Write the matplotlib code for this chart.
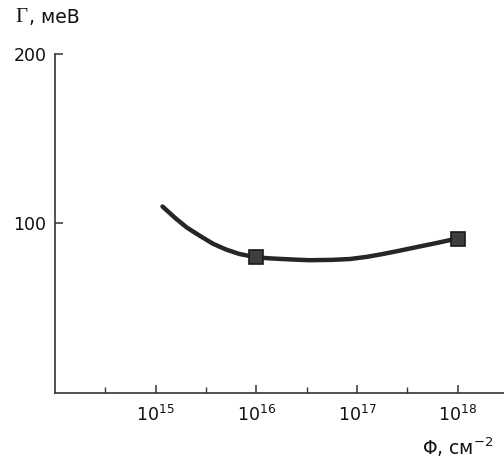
import matplotlib
matplotlib.use("Agg")
import matplotlib.pyplot as plt
from matplotlib.ticker import FixedLocator

plt.rcParams['font.family'] = ['DejaVu Sans']
plt.rcParams['mathtext.fontset'] = 'dejavusans'

# Curve (fluence in cm^-2, broadening in meV)
curve_x = [1.17e15, 1.58e15, 2.04e15, 2.82e15, 3.72e15, 5.01e15, 6.76e15,
           1.0e16, 1.35e16, 1.82e16, 2.51e16, 3.39e16, 5.62e16, 8.51e16,
           1.26e17, 1.82e17, 2.69e17, 3.89e17, 5.89e17, 8.91e17]
curve_y = [110, 103, 97.6, 92.3, 88, 84.6, 82,
           80, 79.4, 79, 78.6, 78.3, 78.5, 79,
           80.3, 82, 84, 86, 88.2, 90.5]

# Measured points (squares)
point_x = [1e16, 1e18]
point_y = [80, 91]

x_ticks = [1e15, 1e16, 1e17, 1e18]
x_minor = [10**14.5, 10**15.5, 10**16.5, 10**17.5]
y_ticks = [100, 200]

fig = plt.figure(figsize=(5.04, 4.66), dpi=100)
ax = fig.add_axes([0.109, 0.157, 0.891, 0.727])

ax.plot(curve_x, curve_y, color='#262626', lw=3.2, solid_capstyle='round',
        solid_joinstyle='round', zorder=2)
ax.plot(point_x, point_y, linestyle='none', marker='s', ms=10,
        markerfacecolor='#3c3f3c', markeredgecolor='#1a1a1a', mew=1.2, zorder=3)

ax.set_xscale('log')
ax.set_xlim(1e14, 10**18.46)
ax.set_ylim(0, 200)

ax.spines['top'].set_visible(False)
ax.spines['right'].set_visible(False)
for s in ('left', 'bottom'):
    ax.spines[s].set_color('#333333')
    ax.spines[s].set_linewidth(1.2)

ax.xaxis.set_major_locator(FixedLocator(x_ticks))
ax.xaxis.set_minor_locator(FixedLocator(x_minor))
ax.yaxis.set_major_locator(FixedLocator(y_ticks))
ax.yaxis.set_minor_locator(FixedLocator([]))

ax.tick_params(axis='x', which='major', direction='in', length=6, width=1.1,
               colors='#333333', labelcolor='#111111', labelsize=12.5, pad=9)
ax.tick_params(axis='x', which='minor', direction='in', length=4, width=1.0, colors='#333333')
ax.tick_params(axis='y', which='major', direction='in', length=6, width=1.1,
               colors='#333333', labelcolor='#111111', labelsize=12.5, pad=6)

fig.text(0.03, 0.962, 'Γ', family='Liberation Serif', fontsize=15, color='#111111',
         va='center', ha='left')
fig.text(0.058, 0.962, ', меВ', fontsize=13.5, color='#111111', va='center', ha='left')
fig.text(0.838, 0.040, 'Φ, см$^{-2}$', fontsize=13.5, color='#111111', va='center', ha='left')

fig.savefig('out.png', dpi=100, facecolor='white')
